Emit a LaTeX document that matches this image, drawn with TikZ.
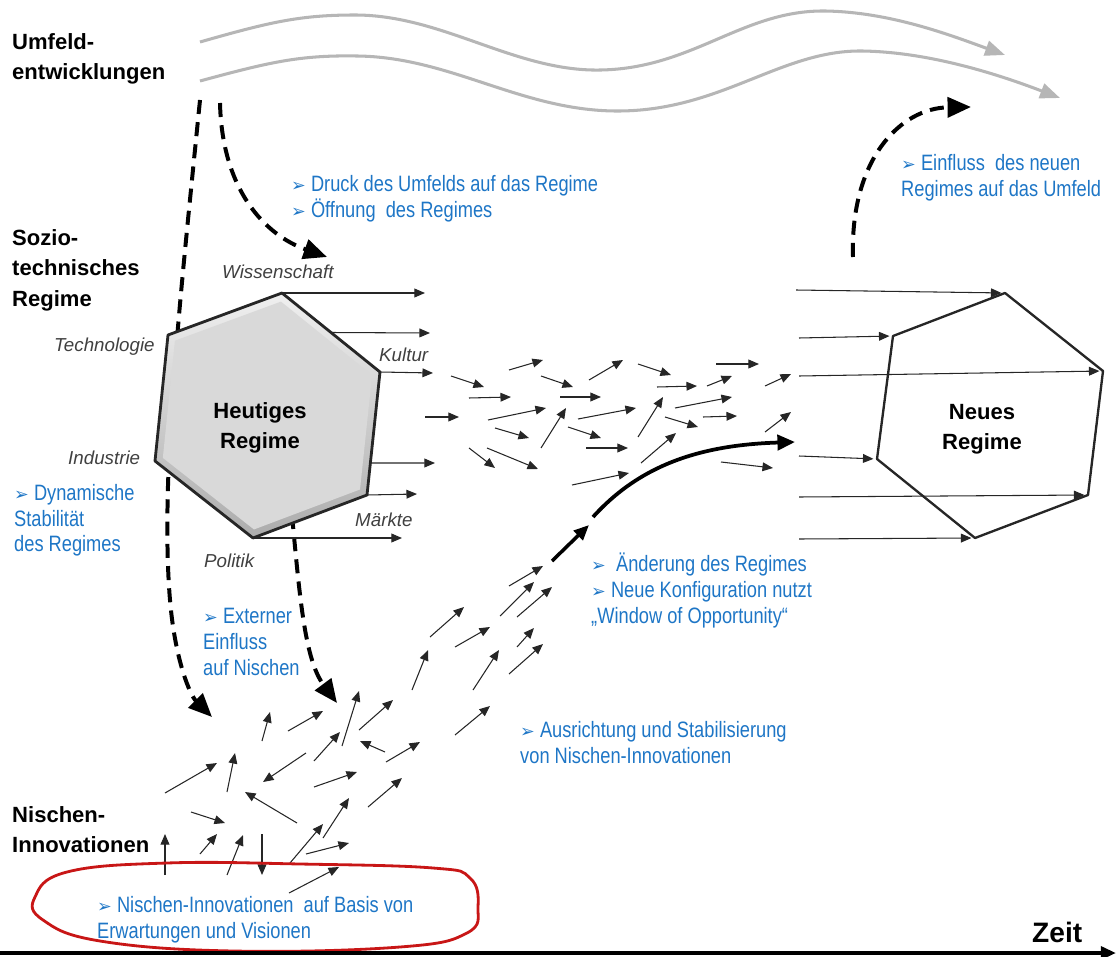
\documentclass[tikz,border=0pt]{standalone}
\usepackage{fontspec}
\setmainfont{Liberation Sans}
\newfontfamily\narrowfont[FakeStretch=0.82]{Liberation Sans}
\newfontfamily\symbolfont{DejaVu Sans}
\usetikzlibrary{calc, arrows.meta}

\definecolor{noteblue}{RGB}{30,118,198}
\definecolor{wavegray}{RGB}{182,182,182}
\definecolor{loopred}{RGB}{200,22,22}
\newcommand{\pointer}{{\symbolfont\fontsize{15}{15}\selectfont ➢}\ }

\tikzset{
	swarm/.style={black!85, line width=0.9pt, -{Triangle[length=9pt,width=7.5pt]}},
	influence/.style={line width=3.4pt, dash pattern=on 12pt off 7pt, -{Triangle[length=20pt,width=17pt]}},
	trend/.style={wavegray, line width=2.6pt, -{Triangle[length=17pt,width=13pt]}},
	note/.style={noteblue, anchor=north west, inner sep=0pt, align=left, font=\narrowfont\fontsize{19}{22}\selectfont},
	level/.style={anchor=north west, inner sep=0pt, align=left, font=\bfseries\fontsize{18.8}{26}\selectfont},
	aspect/.style={black!75, inner sep=0pt, anchor=base west, font=\itshape\fontsize{16}{19}\selectfont},
	regime/.style={anchor=north, inner sep=0pt, align=center, font=\bfseries\fontsize{18.8}{26}\selectfont},
}

\begin{document}
\begin{tikzpicture}[x=0.03cm, y=-0.03cm]
			\useasboundingbox (0,0) rectangle (1116,957);
			
			\coordinate (h1) at (282,293);
			\coordinate (h2) at (380,372);
			\coordinate (h3) at (367,495);
			\coordinate (h4) at (253,538);
			\coordinate (h5) at (155,461);
			\coordinate (h6) at (168,335);
			\coordinate (hc) at (267,416);
			
			\coordinate (n1) at (1005,293);
			\coordinate (n2) at (1103,371);
			\coordinate (n3) at (1088,495);
			\coordinate (n4) at (975,538);
			\coordinate (n5) at (877,459);
			\coordinate (n6) at (893,336);
			
			\coordinate (t0) at (0,953);
			\coordinate (t1) at (1116,953);
			
			\draw[trend] (200,42) .. controls (270,22) and (300,15) .. (355,15) .. controls (440,15) and (510,68) .. (592,70) .. controls (690,72) and (740,10) .. (825,11) .. controls (890,12) and (950,35) .. (1005,55);
			\draw[trend] (200,81) .. controls (270,62) and (300,55) .. (357,56) .. controls (450,57) and (520,110) .. (615,111) .. controls (720,112) and (780,50) .. (862,51) .. controls (930,52) and (1000,75) .. (1060,98);
			
			\draw[influence] (200,100) .. controls (180,300) and (160,480) .. (170,600) .. controls (175,660) and (190,695) .. (212,717);
			\draw[influence] (220,103) .. controls (222,190) and (265,235) .. (327,257);
			\draw[influence] (292,515) .. controls (300,600) and (305,660) .. (337,703);
			\draw[influence] (853,257) .. controls (850,160) and (900,108) .. (971,107);
			
			\shade[top color=gray!12, bottom color=gray!65] (h1) -- (h2) -- (h3) -- (h4) -- (h5) -- (h6) -- cycle;
			\fill[gray!30] ($(hc)!0.93!(h1)$) -- ($(hc)!0.93!(h2)$) -- ($(hc)!0.93!(h3)$) -- ($(hc)!0.93!(h4)$) -- ($(hc)!0.93!(h5)$) -- ($(hc)!0.93!(h6)$) -- cycle;
			\draw[black!85, line width=2.4pt, line join=round] (h1) -- (h2) -- (h3) -- (h4) -- (h5) -- (h6) -- cycle;
			\draw[black!85, line width=2pt, line join=round] (n1) -- (n2) -- (n3) -- (n4) -- (n5) -- (n6) -- cycle;
			
			\draw[swarm] (h1) -- (425,293);
			\draw[swarm] ($(h1)!0.5!(h2)$) -- (430,333);
			\draw[swarm] (h2) -- (433,373);
			\draw[swarm] ($(h2)!0.74!(h3)$) -- (435,463);
			\draw[swarm] (h3) -- (417,494);
			\draw[swarm] (h4) -- (402,538);
			
			\draw[swarm, shorten >=3pt] (796,290) -- (n1);
			\draw[swarm, shorten >=3pt] (799,338) -- (n6);
			\draw[swarm, shorten >=3pt] (799,376) -- (n2);
			\draw[swarm, shorten >=3pt] (799,456) -- (n5);
			\draw[swarm, shorten >=3pt] (799,497) -- (n3);
			\draw[swarm, shorten >=3pt] (799,539) -- (n4);
			
			\foreach \xa/\ya/\xb/\yb in {451/376/484/387, 509/370/543/360, 469/398/511/397, 425/417/459/417, 488/420/546/408, 495/428/529/438, 469/448/495/468, 487/448/538/469, 541/376/573/387, 560/397/601/397, 541/448/566/408, 578/419/636/408, 568/427/601/438, 586/448/628/448, 572/485/629/473, 589/380/623/360, 638/364/671/375, 657/387/697/386, 638/437/663/397, 675/408/732/397, 665/417/698/427, 703/417/737/416, 641/463/676/433, 716/364/759/364, 707/386/732/376, 765/386/791/374, 765/432/791/412, 721/462/773/468}
				\draw[swarm] (\xa,\ya) -- (\xb,\yb);
			
			\foreach \xa/\ya/\xb/\yb in {165/793/217/763, 227/792/235/753, 262/741/270/712, 288/731/323/711, 342/746/359/691, 359/730/393/700, 314/761/340/732, 306/753/263/782, 385/752/360/741, 386/762/420/742, 314/787/357/772, 368/807/402/778, 297/823/245/792, 191/812/225/823, 165/875/165/834, 200/854/217/834, 227/875/243/835, 262/834/262/875, 290/863/323/824, 323/838/349/798, 306/854/349/843, 289/893/339/867, 430/637/464/607, 455/647/490/627, 412/690/428/650, 473/690/499/650, 517/647/534/628, 509/674/543/644, 455/735/490/706, 509/586/543/566, 500/616/534/582, 517/617/552/587}
				\draw[swarm] (\xa,\ya) -- (\xb,\yb);
			
			\draw[line width=3pt, -{Triangle[length=13pt,width=11pt]}] (552,561) -- (589,525);
			\draw[line width=3.2pt, -{Triangle[length=15pt,width=13pt]}] (593,517) .. controls (640,465) and (700,445) .. (795,442);
			
			\draw[loopred, line width=2.4pt] plot[smooth cycle, tension=0.7] coordinates {(35,897) (67,872) (167,863) (300,864) (433,868) (470,878) (478,907) (467,933) (400,947) (233,951) (100,941) (43,920)};
			
			\draw[line width=3.4pt, -{Triangle[length=13pt,width=11pt]}] (t0) -- (t1);
			
			\node[level] (umfeld) at (12,33) {Umfeld-\\entwicklungen};
			\node[level] (sozio) at (12,229) {Sozio-\\technisches\\Regime};
			\node[level] (nischen) at (12,806) {Nischen-\\Innovationen};
			\node[anchor=base west, inner sep=0pt, font=\bfseries\fontsize{24}{28}\selectfont] (zeit) at (1032,942) {Zeit};
			
			\node[regime] (heute) at (260,402) {Heutiges\\Regime};
			\node[regime] (neu) at (982,404) {Neues\\Regime};
			
			\node[aspect] (wiss) at (222,278) {Wissenschaft};
			\node[aspect] (tech) at (54,351) {Technologie};
			\node[aspect] (kultur) at (379,361) {Kultur};
			\node[aspect] (industrie) at (68,464) {Industrie};
			\node[aspect] (maerkte) at (355,526) {Märkte};
			\node[aspect] (politik) at (204,567) {Politik};
			
			\node[note] (druck) at (291,175) {\pointer Druck des Umfelds auf das Regime\\\pointer Öffnung \ des Regimes};
			\node[note] (einfluss) at (901,154) {\pointer Einfluss \ des neuen\\Regimes auf das Umfeld};
			\node[note] (stabil) at (14,484) {\pointer Dynamische\\Stabilität\\des Regimes};
			\node[note] (extern) at (203,608) {\pointer Externer\\Einfluss\\auf Nischen};
			\node[note] (aenderung) at (591,553) {\pointer\ Änderung des Regimes\\\pointer Neue Konfiguration nutzt\\„Window of Opportunity“};
			\node[note] (ausricht) at (520,721) {\pointer Ausrichtung und Stabilisierung\\von Nischen-Innovationen};
			\node[note] (basis) at (97,896) {\pointer Nischen-Innovationen \ auf Basis von\\Erwartungen und Visionen};
		\end{tikzpicture}
\end{document}
